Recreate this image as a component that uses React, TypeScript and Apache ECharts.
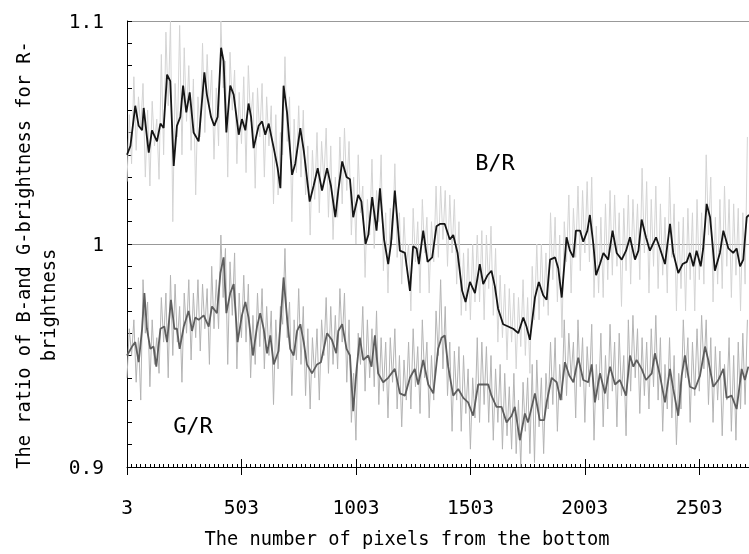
import React, { useEffect, useRef } from 'react';
import * as echarts from 'echarts';

// Raw (unsmoothed) ratios, sampled every X_STEP pixels starting at X_START
const X_START = 3;
const X_STEP = 10;
const X_MIN = 3;
const X_MAX = 2720;
const X_TICK = 500;

const brRaw: number[] = [
  1.028,1.058,1.036,1.075,1.042,1.066,1.052,1.072,1.030,1.060,
  1.026,1.064,1.044,1.056,1.029,1.085,1.040,1.095,1.062,1.100,
  1.010,1.072,1.048,1.098,1.040,1.088,1.055,1.080,1.042,1.074,
  1.022,1.066,1.048,1.090,1.050,1.085,1.060,1.078,1.038,1.070,
  1.044,1.100,1.070,1.082,1.030,1.086,1.060,1.078,1.036,1.068,
  1.045,1.075,1.032,1.080,1.055,1.068,1.025,1.070,1.048,1.072,
  1.030,1.066,1.044,1.062,1.018,1.058,1.022,1.050,1.040,1.084,
  1.046,1.066,1.010,1.056,1.032,1.062,1.030,1.060,1.022,1.044,
  1.004,1.042,1.020,1.050,1.014,1.046,1.028,1.052,1.012,1.044,
  1.002,1.030,1.012,1.048,1.018,1.052,1.024,1.046,1.004,1.030,
  1.000,1.040,1.014,1.026,0.985,1.020,1.004,1.038,0.998,1.024,
  1.010,1.040,0.988,1.014,0.978,1.016,1.002,1.036,0.994,1.014,
  0.982,1.012,0.990,1.000,0.970,1.016,0.992,1.010,0.978,1.020,
  0.996,1.012,0.978,1.010,0.992,1.026,0.994,1.026,1.002,1.024,
  0.990,1.022,0.996,1.020,0.982,1.010,0.968,0.996,0.970,0.998,
  0.966,1.000,0.974,1.004,0.974,1.006,0.966,1.004,0.980,1.008,
  0.968,0.998,0.956,0.986,0.958,0.982,0.948,0.980,0.956,0.978,
  0.944,0.976,0.954,0.984,0.950,0.976,0.942,0.990,0.966,1.000,
  0.966,1.000,0.972,0.996,0.968,1.014,0.984,1.012,0.974,1.004,
  0.958,1.010,0.992,1.022,0.978,1.016,0.994,1.026,0.988,1.024,
  0.996,1.028,0.992,1.030,0.976,1.008,0.978,1.012,0.976,1.018,
  0.984,1.024,0.986,1.022,0.990,1.014,0.972,1.016,0.988,1.022,
  0.982,1.020,0.994,1.018,0.984,1.034,0.996,1.028,0.978,1.020,
  0.990,1.026,0.980,1.018,0.986,1.012,0.978,1.030,0.994,1.018,
  0.970,1.010,0.980,1.012,0.970,1.016,0.984,1.014,0.970,1.020,
  0.984,1.014,0.982,1.040,1.004,1.030,0.974,1.012,0.982,1.020,
  0.980,1.026,0.990,1.020,0.976,1.018,0.986,1.016,0.970,1.014,
  0.982,1.048,
];

const grRaw: number[] = [
  0.940,0.962,0.950,0.966,0.938,0.958,0.930,0.984,0.960,0.974,
  0.936,0.966,0.946,0.958,0.942,0.976,0.956,0.978,0.940,0.986,
  0.950,0.982,0.956,0.972,0.938,0.978,0.960,0.984,0.948,0.978,
  0.958,0.984,0.952,0.982,0.962,0.980,0.946,0.990,0.962,0.984,
  0.962,1.004,0.976,0.998,0.946,0.992,0.968,0.996,0.944,0.978,
  0.958,0.986,0.956,0.982,0.940,0.968,0.946,0.978,0.954,0.980,
  0.944,0.972,0.950,0.970,0.928,0.966,0.944,0.972,0.964,0.998,
  0.958,0.974,0.932,0.966,0.948,0.980,0.946,0.972,0.932,0.962,
  0.926,0.958,0.940,0.962,0.930,0.966,0.950,0.976,0.942,0.972,
  0.946,0.968,0.944,0.980,0.956,0.978,0.938,0.966,0.920,0.942,
  0.912,0.960,0.946,0.972,0.934,0.966,0.940,0.962,0.936,0.970,
  0.928,0.958,0.934,0.956,0.922,0.958,0.938,0.962,0.926,0.950,
  0.918,0.948,0.930,0.956,0.926,0.962,0.936,0.954,0.924,0.966,
  0.940,0.956,0.922,0.950,0.930,0.970,0.950,0.984,0.944,0.972,
  0.932,0.956,0.916,0.952,0.930,0.954,0.916,0.950,0.924,0.944,
  0.908,0.940,0.922,0.958,0.920,0.956,0.928,0.954,0.920,0.950,
  0.912,0.944,0.920,0.946,0.908,0.942,0.914,0.936,0.908,0.942,
  0.906,0.930,0.900,0.938,0.916,0.940,0.906,0.946,0.902,0.948,
  0.918,0.940,0.906,0.942,0.926,0.956,0.928,0.958,0.916,0.946,
  0.930,0.966,0.932,0.960,0.940,0.956,0.922,0.966,0.936,0.958,
  0.920,0.954,0.936,0.964,0.912,0.946,0.930,0.960,0.918,0.950,
  0.926,0.964,0.934,0.956,0.918,0.960,0.932,0.950,0.914,0.966,
  0.934,0.968,0.940,0.962,0.924,0.958,0.932,0.956,0.926,0.962,
  0.936,0.968,0.930,0.958,0.916,0.946,0.926,0.958,0.922,0.950,
  0.910,0.942,0.926,0.966,0.940,0.958,0.920,0.956,0.932,0.962,
  0.934,0.968,0.944,0.966,0.928,0.958,0.920,0.954,0.930,0.952,
  0.914,0.946,0.930,0.958,0.916,0.950,0.912,0.956,0.926,0.960,
  0.928,0.966,
];

// Smoothed (moving average) curves: [pixel, ratio]
const brSmooth: [number, number][] = [
  [3,1.040],[18,1.044],[39,1.062],[54,1.053],[69,1.051],[76,1.061],[90,1.048],[98,1.041],[112,1.051],[134,1.046],
  [149,1.054],[163,1.052],[178,1.076],[192,1.073],[207,1.035],[221,1.053],[236,1.057],[248,1.071],[262,1.059],[277,1.068],
  [294,1.050],[316,1.046],[341,1.077],[352,1.067],[370,1.057],[384,1.053],[399,1.057],[414,1.088],[425,1.082],[437,1.050],
  [454,1.071],[469,1.067],[491,1.049],[505,1.056],[520,1.051],[534,1.063],[545,1.057],[556,1.043],[578,1.053],[593,1.055],
  [607,1.049],[622,1.054],[644,1.043],[661,1.034],[673,1.025],[687,1.071],[702,1.059],[724,1.031],[738,1.036],[760,1.052],
  [775,1.042],[801,1.019],[818,1.026],[836,1.034],[855,1.024],[877,1.034],[894,1.026],[913,1.012],[926,1.024],[943,1.037],
  [962,1.030],[977,1.029],[991,1.012],[1013,1.022],[1027,1.019],[1045,1.000],[1057,1.004],[1074,1.021],[1093,1.006],[1108,1.025],
  [1126,1.002],[1144,0.991],[1156,1.000],[1173,1.024],[1195,0.997],[1217,0.996],[1239,0.979],[1253,0.999],[1268,0.998],[1278,0.991],
  [1297,1.006],[1316,0.992],[1336,0.994],[1355,1.008],[1370,1.009],[1391,1.009],[1413,1.002],[1428,1.004],[1447,0.996],[1467,0.979],
  [1482,0.974],[1501,0.983],[1523,0.978],[1544,0.991],[1559,0.982],[1578,0.986],[1595,0.988],[1610,0.981],[1624,0.971],[1646,0.964],
  [1668,0.963],[1690,0.962],[1712,0.960],[1734,0.967],[1748,0.963],[1763,0.957],[1785,0.976],[1802,0.983],[1821,0.977],[1836,0.975],
  [1851,0.993],[1873,0.994],[1887,0.989],[1902,0.976],[1923,1.003],[1938,0.997],[1953,0.994],[1964,1.006],[1982,1.006],[1996,1.001],
  [2014,1.006],[2025,1.013],[2040,1.000],[2052,0.986],[2069,0.991],[2084,0.996],[2105,0.993],[2124,1.006],[2142,0.996],[2164,0.993],
  [2183,0.997],[2200,1.003],[2222,0.993],[2237,0.997],[2251,1.011],[2270,1.003],[2287,0.997],[2314,1.003],[2331,0.998],[2353,0.991],
  [2375,1.009],[2389,0.996],[2411,0.987],[2430,0.991],[2448,0.992],[2462,0.996],[2477,0.990],[2491,0.997],[2509,0.990],[2520,0.998],
  [2535,1.018],[2550,1.012],[2571,0.988],[2593,0.996],[2608,1.006],[2630,0.998],[2651,0.996],[2666,0.998],[2681,0.990],[2695,0.993],
  [2710,1.012],[2720,1.013],
];

const grSmooth: [number, number][] = [
  [3,0.950],[25,0.954],[39,0.956],[54,0.947],[69,0.962],[79,0.978],[90,0.962],[105,0.953],[119,0.954],[131,0.945],
  [149,0.962],[166,0.963],[178,0.956],[195,0.975],[210,0.962],[221,0.962],[233,0.953],[251,0.963],[272,0.970],[287,0.961],
  [301,0.967],[316,0.966],[338,0.968],[360,0.963],[374,0.972],[396,0.969],[411,0.987],[425,0.994],[437,0.969],[454,0.978],
  [469,0.982],[486,0.956],[505,0.968],[520,0.974],[534,0.967],[553,0.950],[571,0.963],[585,0.969],[600,0.962],[615,0.951],
  [629,0.959],[644,0.946],[665,0.952],[687,0.985],[702,0.967],[716,0.953],[731,0.950],[746,0.961],[760,0.964],[775,0.956],
  [789,0.946],[811,0.942],[833,0.946],[850,0.947],[877,0.960],[898,0.957],[917,0.951],[926,0.961],[943,0.964],[962,0.953],
  [977,0.950],[991,0.925],[1006,0.944],[1020,0.958],[1035,0.948],[1057,0.950],[1071,0.945],[1086,0.959],[1100,0.942],[1122,0.938],
  [1144,0.940],[1173,0.944],[1195,0.933],[1217,0.932],[1239,0.940],[1260,0.944],[1275,0.937],[1297,0.948],[1319,0.937],[1341,0.933],
  [1362,0.953],[1377,0.958],[1391,0.959],[1406,0.945],[1428,0.932],[1450,0.935],[1472,0.931],[1493,0.929],[1515,0.923],[1537,0.937],
  [1559,0.937],[1581,0.937],[1595,0.932],[1617,0.927],[1639,0.927],[1661,0.920],[1683,0.923],[1697,0.927],[1719,0.912],[1741,0.924],
  [1755,0.920],[1785,0.933],[1806,0.921],[1825,0.921],[1836,0.929],[1858,0.940],[1880,0.938],[1897,0.930],[1916,0.947],[1935,0.941],
  [1953,0.938],[1974,0.949],[1996,0.939],[2018,0.938],[2033,0.946],[2047,0.929],[2069,0.942],[2091,0.933],[2113,0.945],[2135,0.937],
  [2156,0.939],[2183,0.932],[2200,0.950],[2215,0.945],[2229,0.948],[2251,0.944],[2270,0.939],[2295,0.942],[2309,0.951],[2331,0.941],
  [2353,0.929],[2375,0.944],[2389,0.935],[2411,0.923],[2426,0.941],[2440,0.950],[2462,0.936],[2484,0.935],[2506,0.941],[2528,0.954],
  [2542,0.948],[2564,0.936],[2586,0.939],[2608,0.944],[2622,0.931],[2644,0.932],[2666,0.926],[2688,0.944],[2702,0.939],[2717,0.945],
];

const X_TITLE = 'The number of pixels from the bottom';
const Y_TITLE_1 = 'The ratio of B-and G-brightness for R-';
const Y_TITLE_2 = 'brightness';
const LABEL_BR = 'B/R';
const LABEL_GR = 'G/R';

export default function App() {
  const ref = useRef<HTMLDivElement>(null);
  useEffect(() => {
    const chart = echarts.init(ref.current as HTMLDivElement, null, { renderer: 'svg' });
    const toPairs = (vals: number[]) => vals.map((v, i) => [X_START + i * X_STEP, v]);
    const font = '"DejaVu Sans Mono", "Liberation Mono", monospace';
    const G = { left: 127, top: 21, right: 0, bottom: 87, containLabel: false };
    chart.setOption({
      animation: false,
      grid: [{ ...G }, { ...G }],
      xAxis: [
        {
          type: 'value', gridIndex: 0, min: X_MIN, max: X_MAX, interval: X_TICK,
          axisLine: { show: true, onZero: false, lineStyle: { color: '#000', width: 1 } },
          axisTick: { show: true, inside: true, length: 8, lineStyle: { color: '#000' } },
          minorTick: { show: true, splitNumber: 25, length: 3, lineStyle: { color: '#000' } },
          axisLabel: { show: true, margin: 30, fontSize: 19.5, color: '#000', fontFamily: font, showMaxLabel: false,
            formatter: (v: number) => String(Math.round(v)) },
          splitLine: { show: false },
        },
        {
          type: 'value', gridIndex: 1, min: X_MIN, max: X_MAX, interval: X_TICK,
          axisLine: { show: false },
          axisTick: { show: true, inside: false, length: 8, lineStyle: { color: '#000' } },
          axisLabel: { show: false },
          splitLine: { show: false },
        },
      ],
      yAxis: [
        {
          type: 'value', gridIndex: 0, min: 0.9, max: 1.1, interval: 0.1,
          axisLine: { show: true, onZero: false, lineStyle: { color: '#000', width: 1 } },
          axisTick: { show: true, inside: true, length: 5, lineStyle: { color: '#000' } },
          minorTick: { show: true, splitNumber: 10, length: 5, lineStyle: { color: '#000' } },
          axisLabel: { margin: 23, fontSize: 19.5, color: '#000', fontFamily: font,
            formatter: (v: number) => String(parseFloat(v.toFixed(1))) },
          splitLine: { show: true, lineStyle: { color: '#999', width: 1 } },
        },
        { type: 'value', gridIndex: 1, min: 0.9, max: 1.1, show: false },
      ],
      series: [
        { type: 'line', xAxisIndex: 0, yAxisIndex: 0, data: toPairs(brRaw), symbol: 'none', z: 1,
          lineStyle: { color: '#d4d4d4', width: 1 } },
        { type: 'line', xAxisIndex: 0, yAxisIndex: 0, data: toPairs(grRaw), symbol: 'none', z: 2,
          lineStyle: { color: '#b4b4b4', width: 1 } },
        { type: 'line', xAxisIndex: 0, yAxisIndex: 0, data: grSmooth, symbol: 'none', z: 3,
          lineStyle: { color: '#5e5e5e', width: 1.8 } },
        { type: 'line', xAxisIndex: 0, yAxisIndex: 0, data: brSmooth, symbol: 'none', z: 4,
          lineStyle: { color: '#151515', width: 1.8 } },
      ],
      graphic: [
        { type: 'text', x: 407, y: 538, style: { text: X_TITLE, fontSize: 18.7, fontFamily: font, fill: '#000', align: 'center', verticalAlign: 'middle' } },
        { type: 'text', x: 23, y: 255, rotation: Math.PI / 2, style: { text: Y_TITLE_1, fontSize: 18.7, fontFamily: font, fill: '#000', align: 'center', verticalAlign: 'middle' } },
        { type: 'text', x: 48, y: 305, rotation: Math.PI / 2, style: { text: Y_TITLE_2, fontSize: 18.7, fontFamily: font, fill: '#000', align: 'center', verticalAlign: 'middle' } },
        { type: 'text', x: 495, y: 162, style: { text: LABEL_BR, fontSize: 22, fontFamily: font, fill: '#000', align: 'center', verticalAlign: 'middle' } },
        { type: 'text', x: 193, y: 425, style: { text: LABEL_GR, fontSize: 22, fontFamily: font, fill: '#000', align: 'center', verticalAlign: 'middle' } },
      ],
    });
    return () => chart.dispose();
  }, []);
  return <div ref={ref} style={{ position: 'fixed', left: 0, top: 0, width: 749, height: 554 }} />;
}
